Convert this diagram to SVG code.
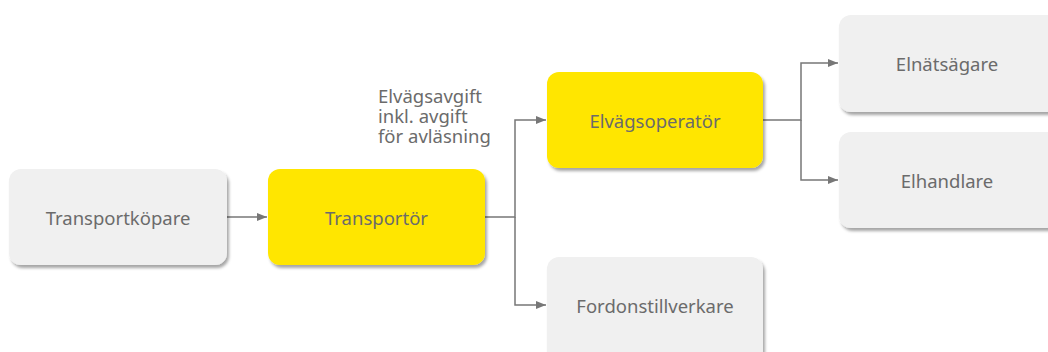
<svg xmlns="http://www.w3.org/2000/svg" width="1048" height="352" viewBox="0 0 1048 352">
  <defs>
    <filter id="shadow" x="-10%" y="-10%" width="125%" height="130%">
      <feDropShadow dx="2" dy="3" stdDeviation="1.5" flood-color="#000" flood-opacity="0.35"/>
    </filter>
    <marker id="arrow" viewBox="0 0 10 10" refX="10" refY="5" markerWidth="10" markerHeight="10" markerUnits="userSpaceOnUse" orient="auto">
      <path d="M0,1 L10,5 L0,9 Z" fill="#777"/>
    </marker>
    <style>
      .box { filter: url(#shadow); }
      .grey { fill: #f0f0f0; }
      .yellow { fill: #ffe600; }
      .label { font-family: "Noto Sans", "Open Sans", sans-serif; font-size: 18.5px; fill: #6b6b6b; text-anchor: middle; dominant-baseline: central; }
      .note { font-family: "Noto Sans", "Open Sans", sans-serif; font-size: 18.5px; fill: #6b6b6b; }
      .conn { fill: none; stroke: #777; stroke-width: 1.5; }
    </style>
  </defs>

  <rect width="1048" height="352" fill="#fff"/>

  <g id="connectors">
    <path class="conn" d="M227,217 H267" marker-end="url(#arrow)"/>
    <path class="conn" d="M485,217 H515 V120 H546" marker-end="url(#arrow)"/>
    <path class="conn" d="M515,217 V305 H546" marker-end="url(#arrow)"/>
    <path class="conn" d="M763,120 H801 V63 H838" marker-end="url(#arrow)"/>
    <path class="conn" d="M801,120 V180 H838" marker-end="url(#arrow)"/>
  </g>

  <g id="transportkopare">
    <rect class="box grey" x="9" y="169" width="218" height="96" rx="12"/>
    <text class="label" x="118" y="217">Transportköpare</text>
  </g>

  <g id="transportor">
    <rect class="box yellow" x="268" y="169" width="217" height="96" rx="12"/>
    <text class="label" x="376.5" y="217">Transportör</text>
  </g>

  <g id="elvagsoperator">
    <rect class="box yellow" x="547" y="72" width="216" height="96" rx="12"/>
    <text class="label" x="655" y="120">Elvägsoperatör</text>
  </g>

  <g id="elnatsagare">
    <rect class="box grey" x="839" y="15" width="220" height="97" rx="12"/>
    <text class="label" x="947" y="63">Elnätsägare</text>
  </g>

  <g id="elhandlare">
    <rect class="box grey" x="839" y="132" width="220" height="96" rx="12"/>
    <text class="label" x="947" y="180">Elhandlare</text>
  </g>

  <g id="fordonstillverkare">
    <rect class="box grey" x="547" y="257" width="216" height="106" rx="12"/>
    <text class="label" x="655" y="305">Fordonstillverkare</text>
  </g>

  <g id="avgift-note">
    <text class="note" x="378" y="103">Elvägsavgift</text>
    <text class="note" x="378" y="123">inkl. avgift</text>
    <text class="note" x="378" y="143">för avläsning</text>
  </g>
</svg>
